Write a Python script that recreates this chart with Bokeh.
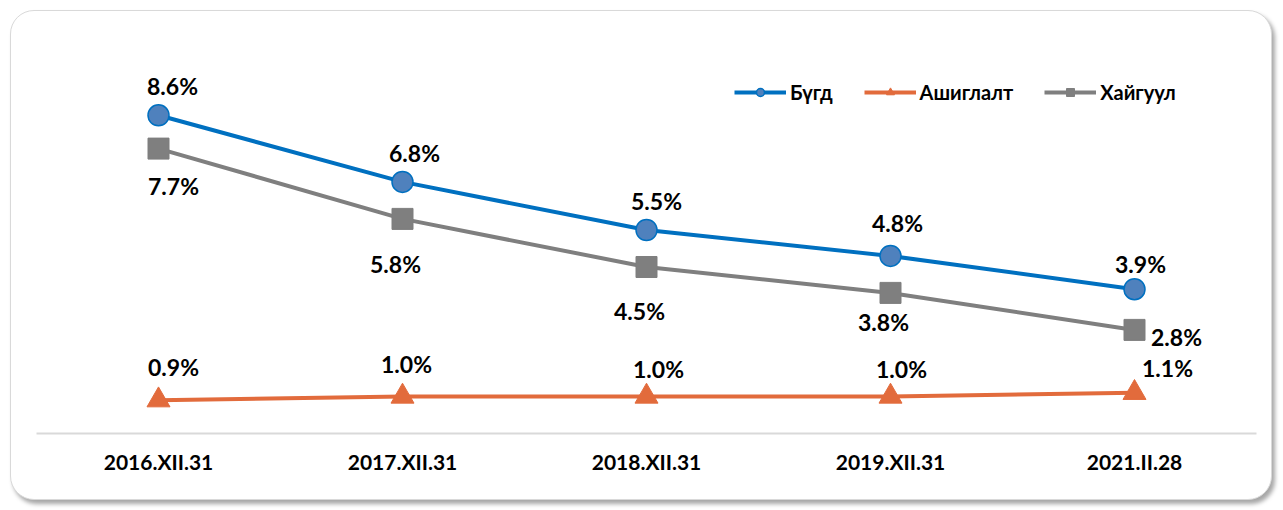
from bokeh.plotting import figure
from bokeh.models import ColumnDataSource, FactorRange, Range1d, Legend, LegendItem
from bokeh.core.properties import value
from bokeh.embed import file_html
from bokeh.resources import INLINE

categories = ["2016.XII.31", "2017.XII.31", "2018.XII.31", "2019.XII.31", "2021.II.28"]
bugd = [8.6, 6.8, 5.5, 4.8, 3.9]
ashiglalt = [0.9, 1.0, 1.0, 1.0, 1.1]
haiguul = [7.7, 5.8, 4.5, 3.8, 2.8]
series_names = ["Бүгд", "Ашиглалт", "Хайгуул"]

# label offsets (pixels, screen: +x right, +y down) for each point
bugd_dx = [14, 12, 10, 7, 6]
bugd_dy = [-29, -29, -29, -33, -25]
ash_dx = [15, 4, 12, 11, 33]
ash_dy = [-33, -33, -28, -28, -25]
hai_dx = [15, -7, -7, -7, 42]
hai_dy = [37, 45, 44, 29, 7]

FONT = "Lato"
BLUE = "#0070C0"
BLUE_FILL = "#4F81BD"
ORANGE = "#E26B3C"
GRAY = "#7F7F7F"

p = figure(width=1262, height=490, x_range=FactorRange(factors=categories, range_padding=0),
           y_range=Range1d(0, 10), output_backend="svg", toolbar_location=None,
           y_axis_location=None, min_border_left=25, min_border_right=17,
           min_border_top=52, min_border_bottom=68)
p.margin = (10, 0, 0, 10)
p.border_fill_color = None
p.background_fill_color = None
p.outline_line_color = None
p.xgrid.visible = False
p.ygrid.visible = False
p.styles = {"background-color": "white", "border": "1px solid #d9d9d9",
            "border-radius": "24px", "box-shadow": "3px 4px 4px rgba(0,0,0,0.35)"}

xa = p.xaxis[0]
xa.axis_line_color = "#d9d9d9"
xa.axis_line_width = 2
xa.major_tick_line_color = None
xa.minor_tick_line_color = None
xa.major_label_text_font = FONT
xa.major_label_text_font_style = "bold"
xa.major_label_text_font_size = "21px"
xa.major_label_text_color = "#000000"
xa.major_label_standoff = 9

def pct(vals):
    return [f"{v:.1f}%" for v in vals]

src_b = ColumnDataSource(dict(x=categories, y=bugd, t=pct(bugd), dx=bugd_dx, dy=bugd_dy))
src_a = ColumnDataSource(dict(x=categories, y=ashiglalt, t=pct(ashiglalt), dx=ash_dx, dy=ash_dy))
src_h = ColumnDataSource(dict(x=categories, y=haiguul, t=pct(haiguul), dx=hai_dx, dy=hai_dy))

lb = p.line("x", "y", source=src_b, line_color=BLUE, line_width=4)
sb = p.scatter("x", "y", source=src_b, marker="circle", size=21, fill_color=BLUE_FILL,
               line_color=BLUE, line_width=1.5)
la = p.line("x", "y", source=src_a, line_color=ORANGE, line_width=4)
sa = p.scatter("x", "y", source=src_a, marker="triangle", size=23, fill_color=ORANGE,
               line_color=ORANGE)
lh = p.line("x", "y", source=src_h, line_color=GRAY, line_width=4)
sh = p.scatter("x", "y", source=src_h, marker="square", size=21, fill_color=GRAY,
               line_color=GRAY)

for src in (src_b, src_a, src_h):
    p.text("x", "y", text="t", source=src, x_offset="dx", y_offset="dy",
           text_align="center", text_baseline="middle", text_font=value(FONT),
           text_font_style="bold", text_font_size="23px", text_color="#000000")

legend = Legend(items=[LegendItem(label=series_names[0], renderers=[lb, sb]),
                       LegendItem(label=series_names[1], renderers=[la, sa]),
                       LegendItem(label=series_names[2], renderers=[lh, sh])],
                orientation="horizontal", location=(698, 329), glyph_width=52,
                glyph_height=20, label_height=20, label_standoff=4, spacing=31,
                padding=0, margin=0, border_line_color=None, background_fill_alpha=0,
                label_text_font=FONT, label_text_font_style="bold",
                label_text_font_size="20px", label_text_color="#000000")
p.add_layout(legend)

open("out.html", "w").write(file_html(p, INLINE))
